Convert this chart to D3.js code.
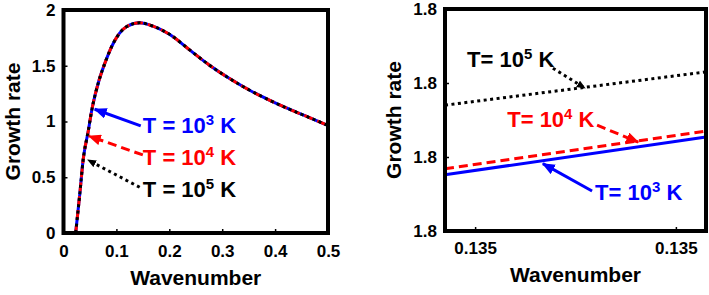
<!DOCTYPE html>
<html>
<head>
<meta charset="utf-8">
<script src="https://cdn.jsdelivr.net/npm/d3@7"></script>
<style>
  body { margin: 0; background: #fff; }
  text { font-family: "Liberation Sans", Arial, Helvetica, sans-serif; font-weight: bold; }
</style>
</head>
<body>
<div id="chart"></div>
<script>
// full dispersion curve (all three temperatures overlap)
const waveNumber = [0.023, 0.031, 0.037, 0.047, 0.053, 0.066, 0.078, 0.094, 0.119, 0.144, 0.169, 0.201, 0.239, 0.276, 0.314, 0.352, 0.390, 0.427, 0.465, 0.497]
const growthRate = [0, 0.36, 0.65, 0.92, 1.09, 1.35, 1.52, 1.70, 1.85, 1.885, 1.855, 1.78, 1.64, 1.505, 1.385, 1.28, 1.19, 1.11, 1.035, 0.97]

// zoom near the peak
const zoomWave = [0.13494, 0.13546]
const zoomT3 = [1.840076, 1.840127]
const zoomT4 = [1.840084, 1.840135]
const zoomT5 = [1.840170, 1.840215]

const leftXTicks = [0, 0.1, 0.2, 0.3, 0.4, 0.5]
const leftYTicks = [0, 0.5, 1, 1.5, 2]
const rightXTicks = [0.1350, 0.1354]
const rightYTicks = [1.8400, 1.8401, 1.8402, 1.8403]

// labels: superscript, text anchor, tail point, head point (data units)
const leftNotes = [
  { sup: '3', tx: 0.150, ty: 0.897, x1: 0.146, y1: 0.96, x2: 0.059, y2: 1.11 },
  { sup: '4', tx: 0.150, ty: 0.61, x1: 0.150, y1: 0.70, x2: 0.048, y2: 0.87 },
  { sup: '5', tx: 0.150, ty: 0.32, x1: 0.144, y1: 0.41, x2: 0.046, y2: 0.655 },
]
const rightNotes = [
  { sup: '3', tx: 0.135239, ty: 1.840042, x1: 0.135233, y1: 1.840054, x2: 0.135135, y2: 1.840091 },
  { sup: '4', tx: 0.135064, ty: 1.840141, x1: 0.135243, y1: 1.840143, x2: 0.135325, y2: 1.840120 },
  { sup: '5', tx: 0.134984, ty: 1.840222, x1: 0.135155, y1: 1.840220, x2: 0.135219, y2: 1.840193 },
]

const styles = [
  { color: '#0000ff', dash: null },
  { color: '#ff0000', dash: '9,5' },
  { color: '#000000', dash: '3,3.5' },
]

const svg = d3.select('#chart').append('svg')
  .attr('width', 709).attr('height', 295)

const defs = svg.append('defs')
styles.forEach((s, i) => {
  defs.append('marker')
    .attr('id', 'head' + i)
    .attr('markerUnits', 'userSpaceOnUse')
    .attr('viewBox', '0 0 12 10')
    .attr('refX', 11).attr('refY', 5)
    .attr('markerWidth', i === 2 ? 9 : 13).attr('markerHeight', i === 2 ? 8 : 11)
    .attr('orient', 'auto')
    .append('path').attr('d', 'M0,0 L12,5 L0,10 Z').attr('fill', s.color)
})

function panel(opt) {
  const x = d3.scaleLinear().domain(opt.xDomain).range(opt.xRange)
  const y = d3.scaleLinear().domain(opt.yDomain).range(opt.yRange)
  const g = svg.append('g')

  g.append('g').attr('transform', `translate(0,${opt.yRange[0]})`)
    .call(d3.axisBottom(x).tickValues(opt.xTicks).tickFormat(opt.xFmt).tickSize(-4).tickPadding(opt.xPad))
  g.append('g').attr('transform', `translate(${opt.xRange[0]},0)`)
    .call(d3.axisLeft(y).tickValues(opt.yTicks).tickFormat(opt.yFmt).tickSize(-4).tickPadding(8))
  g.selectAll('.domain').remove()
  g.selectAll('.tick line').attr('stroke', '#000').attr('stroke-width', 1.5)
  g.selectAll('.tick text').attr('fill', '#000').style('font-size', '17px')

  const line = d3.line().x(d => x(d[0])).y(d => y(d[1])).curve(d3.curveMonotoneX)
  opt.series.forEach((ys, i) => {
    g.append('path')
      .attr('d', line(opt.xs.map((v, j) => [v, ys[j]])))
      .attr('fill', 'none')
      .attr('stroke', styles[i].color)
      .attr('stroke-width', 3)
      .attr('stroke-dasharray', styles[i].dash)
  })

  g.append('rect')
    .attr('x', opt.xRange[0]).attr('y', opt.yRange[1])
    .attr('width', opt.xRange[1] - opt.xRange[0])
    .attr('height', opt.yRange[0] - opt.yRange[1])
    .attr('fill', 'none').attr('stroke', '#000').attr('stroke-width', 4)

  opt.notes.forEach((n, i) => {
    const s = styles[i]
    g.append('line')
      .attr('x1', x(n.x1)).attr('y1', y(n.y1))
      .attr('x2', x(n.x2)).attr('y2', y(n.y2))
      .attr('stroke', s.color).attr('stroke-width', 3)
      .attr('stroke-dasharray', s.dash)
      .attr('marker-end', `url(#head${i})`)
    const t = g.append('text')
      .attr('x', x(n.tx)).attr('y', y(n.ty))
      .attr('fill', s.color).style('font-size', '22px')
    t.append('tspan').text(opt.prefix)
    t.append('tspan').attr('dy', -8).style('font-size', '15px').text(n.sup)
    t.append('tspan').attr('dy', 8).text(' K')
  })

  const cx = (opt.xRange[0] + opt.xRange[1]) / 2
  const cy = (opt.yRange[0] + opt.yRange[1]) / 2
  g.append('text')
    .attr('x', cx).attr('y', opt.xLabelY)
    .attr('text-anchor', 'middle').style('font-size', '21px')
    .text('Wavenumber')
  g.append('text')
    .attr('transform', `translate(${opt.yLabelX},${cy}) rotate(-90)`)
    .attr('text-anchor', 'middle').style('font-size', '21px')
    .text('Growth rate')
}

const fmtShort = d3.format('~g')

panel({
  xDomain: [0, 0.5], xRange: [63.5, 328],
  yDomain: [0, 2], yRange: [233, 10],
  xTicks: leftXTicks, yTicks: leftYTicks,
  xFmt: fmtShort, yFmt: fmtShort, xPad: 12,
  xs: waveNumber, series: [growthRate, growthRate, growthRate],
  notes: leftNotes, prefix: 'T = 10',
  xLabelY: 285, yLabelX: 20
})

panel({
  xDomain: [0.13494, 0.13546], xRange: [445, 706],
  yDomain: [1.8400, 1.8403], yRange: [231, 9],
  xTicks: rightXTicks, yTicks: rightYTicks,
  xFmt: d3.format('.3f'), yFmt: d3.format('.1f'), xPad: 11,
  xs: zoomWave, series: [zoomT3, zoomT4, zoomT5],
  notes: rightNotes, prefix: 'T= 10',
  xLabelY: 282, yLabelX: 401
})
</script>
</body>
</html>
